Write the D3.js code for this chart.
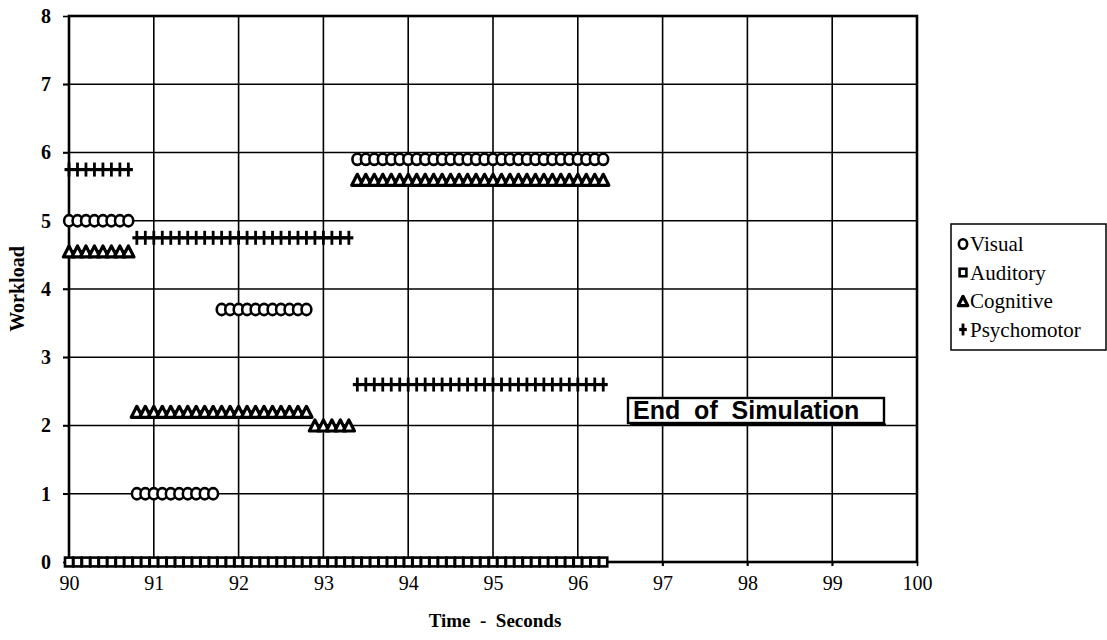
<!DOCTYPE html>
<html>
<head>
<meta charset="utf-8">
<script src="https://cdn.jsdelivr.net/npm/d3@7"></script>
<style>
  body { margin: 0; background: #fff; }
  svg { display: block; }
</style>
</head>
<body>
<svg id="chart" width="1107" height="640"></svg>
<script>
// ---- data ----
const times = [
  90.0, 90.1, 90.2, 90.3, 90.4, 90.5, 90.6, 90.7, 90.8, 90.9,
  91.0, 91.1, 91.2, 91.3, 91.4, 91.5, 91.6, 91.7, 91.8, 91.9,
  92.0, 92.1, 92.2, 92.3, 92.4, 92.5, 92.6, 92.7, 92.8, 92.9,
  93.0, 93.1, 93.2, 93.3, 93.4, 93.5, 93.6, 93.7, 93.8, 93.9,
  94.0, 94.1, 94.2, 94.3, 94.4, 94.5, 94.6, 94.7, 94.8, 94.9,
  95.0, 95.1, 95.2, 95.3, 95.4, 95.5, 95.6, 95.7, 95.8, 95.9,
  96.0, 96.1, 96.2, 96.3
];
const visual = [
  5, 5, 5, 5, 5, 5, 5, 5, 1, 1,
  1, 1, 1, 1, 1, 1, 1, 1, 3.7, 3.7,
  3.7, 3.7, 3.7, 3.7, 3.7, 3.7, 3.7, 3.7, 3.7, null,
  null, null, null, null, 5.9, 5.9, 5.9, 5.9, 5.9, 5.9,
  5.9, 5.9, 5.9, 5.9, 5.9, 5.9, 5.9, 5.9, 5.9, 5.9,
  5.9, 5.9, 5.9, 5.9, 5.9, 5.9, 5.9, 5.9, 5.9, 5.9,
  5.9, 5.9, 5.9, 5.9
];
const auditory = [
  0, 0, 0, 0, 0, 0, 0, 0, 0, 0,
  0, 0, 0, 0, 0, 0, 0, 0, 0, 0,
  0, 0, 0, 0, 0, 0, 0, 0, 0, 0,
  0, 0, 0, 0, 0, 0, 0, 0, 0, 0,
  0, 0, 0, 0, 0, 0, 0, 0, 0, 0,
  0, 0, 0, 0, 0, 0, 0, 0, 0, 0,
  0, 0, 0, 0
];
const cognitive = [
  4.55, 4.55, 4.55, 4.55, 4.55, 4.55, 4.55, 4.55, 2.2, 2.2,
  2.2, 2.2, 2.2, 2.2, 2.2, 2.2, 2.2, 2.2, 2.2, 2.2,
  2.2, 2.2, 2.2, 2.2, 2.2, 2.2, 2.2, 2.2, 2.2, 2.0,
  2.0, 2.0, 2.0, 2.0, 5.6, 5.6, 5.6, 5.6, 5.6, 5.6,
  5.6, 5.6, 5.6, 5.6, 5.6, 5.6, 5.6, 5.6, 5.6, 5.6,
  5.6, 5.6, 5.6, 5.6, 5.6, 5.6, 5.6, 5.6, 5.6, 5.6,
  5.6, 5.6, 5.6, 5.6
];
const psychomotor = [
  5.75, 5.75, 5.75, 5.75, 5.75, 5.75, 5.75, 5.75, 4.75, 4.75,
  4.75, 4.75, 4.75, 4.75, 4.75, 4.75, 4.75, 4.75, 4.75, 4.75,
  4.75, 4.75, 4.75, 4.75, 4.75, 4.75, 4.75, 4.75, 4.75, 4.75,
  4.75, 4.75, 4.75, 4.75, 2.6, 2.6, 2.6, 2.6, 2.6, 2.6,
  2.6, 2.6, 2.6, 2.6, 2.6, 2.6, 2.6, 2.6, 2.6, 2.6,
  2.6, 2.6, 2.6, 2.6, 2.6, 2.6, 2.6, 2.6, 2.6, 2.6,
  2.6, 2.6, 2.6, 2.6
];
const seriesNames = ["Visual", "Auditory", "Cognitive", "Psychomotor"];
const xTicks = [90, 91, 92, 93, 94, 95, 96, 97, 98, 99, 100];
const yTicks = [0, 1, 2, 3, 4, 5, 6, 7, 8];
const xTitle = "Time  -  Seconds";
const yTitle = "Workload";
const note = "End  of  Simulation";

// ---- layout ----
const svg = d3.select("#chart");
const L = 69, R = 917, T = 16, B = 562;
const x = d3.scaleLinear().domain([90, 100]).range([L, R]);
const y = d3.scaleLinear().domain([0, 8]).range([B, T]);

// gridlines
const grid = svg.append("g");
grid.selectAll("line.h").data(yTicks.slice(1, -1)).join("line")
  .attr("x1", L - 6).attr("x2", R).attr("y1", d => y(d)).attr("y2", d => y(d))
  .attr("stroke", "#000").attr("stroke-width", 1.6);
grid.selectAll("line.v").data(xTicks.slice(1, -1)).join("line")
  .attr("x1", d => x(d)).attr("x2", d => x(d)).attr("y1", T).attr("y2", B + 4)
  .attr("stroke", "#000").attr("stroke-width", 1.6);

// axes (labels)
const yAxis = svg.append("g").attr("transform", `translate(${L},0)`)
  .call(d3.axisLeft(y).tickValues(yTicks).tickFormat(d3.format("d")).tickSize(6).tickPadding(12));
yAxis.select(".domain").remove();
yAxis.selectAll("line").attr("stroke", "#000").attr("stroke-width", 1.6);
yAxis.selectAll("text").attr("font-family", "'Liberation Serif', serif")
  .attr("font-size", 20).attr("font-weight", "bold").attr("fill", "#000");

const xAxis = svg.append("g").attr("transform", `translate(0,${B})`)
  .call(d3.axisBottom(x).tickValues(xTicks).tickFormat(d3.format("d")).tickSize(4).tickPadding(10));
xAxis.select(".domain").remove();
xAxis.selectAll("line").attr("stroke", "#000").attr("stroke-width", 1.6);
xAxis.selectAll("text").attr("font-family", "'Liberation Serif', serif")
  .attr("font-size", 20).attr("fill", "#000");

// frame
svg.append("rect").attr("x", L).attr("y", T).attr("width", R - L).attr("height", B - T)
  .attr("fill", "none").attr("stroke", "#000").attr("stroke-width", 2.6);

// titles
svg.append("text").attr("x", 495).attr("y", 627).attr("text-anchor", "middle")
  .attr("font-family", "'Liberation Serif', serif").attr("font-weight", "bold").attr("font-size", 19)
  .style("white-space", "pre").text(xTitle);
svg.append("text").attr("transform", `translate(24,${(T + B) / 2}) rotate(-90)`)
  .attr("text-anchor", "middle")
  .attr("font-family", "'Liberation Serif', serif").attr("font-weight", "bold").attr("font-size", 20)
  .text(yTitle);

// ---- series ----
const series = [
  { name: seriesNames[0], values: visual, marker: "circle" },
  { name: seriesNames[1], values: auditory, marker: "square" },
  { name: seriesNames[2], values: cognitive, marker: "triangle" },
  { name: seriesNames[3], values: psychomotor, marker: "plus" }
];

function runsOf(values) {
  const runs = [];
  let cur = null;
  values.forEach((v, i) => {
    if (v === null) { cur = null; return; }
    if (!cur || cur.v !== v) { cur = { v, pts: [] }; runs.push(cur); }
    cur.pts.push([times[i], v]);
  });
  return runs;
}

const line = d3.line().x(d => x(d[0])).y(d => y(d[1]));

function drawMarker(g, type, cx, cy, scale = 1) {
  if (type === "circle") {
    g.append("ellipse").attr("cx", cx).attr("cy", cy).attr("rx", 4.9 * scale).attr("ry", 5.6 * scale)
      .attr("fill", "#fff").attr("stroke", "#000").attr("stroke-width", 2.6);
  } else if (type === "square") {
    g.append("rect").attr("x", cx - 4 * scale).attr("y", cy - 4.4 * scale)
      .attr("width", 8 * scale).attr("height", 8.8 * scale)
      .attr("fill", "#fff").attr("stroke", "#000").attr("stroke-width", 2.6);
  } else if (type === "triangle") {
    const w = 5.6 * scale, h = 11 * scale;
    g.append("path").attr("d", `M${cx},${cy - h / 2}L${cx + w},${cy + h / 2}L${cx - w},${cy + h / 2}Z`)
      .attr("fill", "#fff").attr("stroke", "#000").attr("stroke-width", 3.2).attr("stroke-linejoin", "round");
  } else if (type === "plus") {
    g.append("line").attr("x1", cx).attr("x2", cx).attr("y1", cy - 7 * scale).attr("y2", cy + 7 * scale)
      .attr("stroke", "#000").attr("stroke-width", 2.8);
    g.append("line").attr("x1", cx - 4.5 * scale).attr("x2", cx + 4.5 * scale).attr("y1", cy).attr("y2", cy)
      .attr("stroke", "#000").attr("stroke-width", 3.2);
  }
}

const sg = svg.append("g");
series.forEach(s => {
  const g = sg.append("g");
  runsOf(s.values).forEach(run => {
    g.append("path").attr("d", line(run.pts)).attr("fill", "none")
      .attr("stroke", "#000").attr("stroke-width", 3);
    run.pts.forEach(p => drawMarker(g, s.marker, x(p[0]), y(p[1])));
  });
});

// ---- legend ----
const lg = svg.append("g");
lg.append("rect").attr("x", 951).attr("y", 224).attr("width", 155).attr("height", 126)
  .attr("fill", "#fff").attr("stroke", "#000").attr("stroke-width", 1.5);
series.forEach((s, i) => {
  const cy = 244 + i * 28.5;
  drawMarker(lg, s.marker, 963, cy, 0.85);
  lg.append("text").attr("x", 970).attr("y", cy + 7)
    .attr("font-family", "'Liberation Serif', serif").attr("font-size", 21).attr("fill", "#000")
    .text(s.name);
});

// ---- annotation ----
const ag = svg.append("g");
ag.append("rect").attr("x", 628).attr("y", 398).attr("width", 256).attr("height", 25)
  .attr("fill", "#fff").attr("stroke", "#000").attr("stroke-width", 2.4);
ag.append("line").attr("x1", 630).attr("x2", 886).attr("y1", 424.5).attr("y2", 424.5)
  .attr("stroke", "#000").attr("stroke-width", 2);
ag.append("text").attr("x", 633).attr("y", 419)
  .attr("font-family", "'Liberation Sans', Arial, sans-serif").attr("font-weight", "bold").attr("font-size", 25)
  .style("white-space", "pre").text(note);
</script>
</body>
</html>
